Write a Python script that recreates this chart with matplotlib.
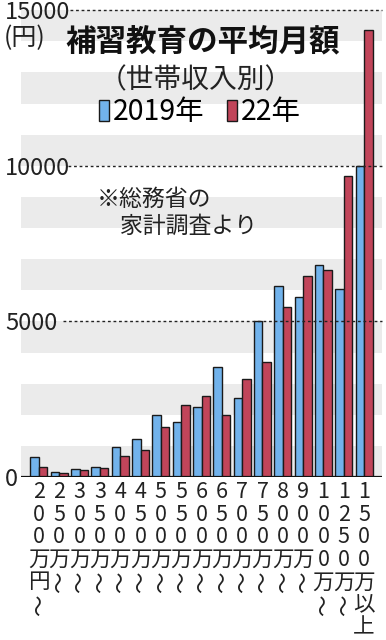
import matplotlib
matplotlib.use("Agg")
import matplotlib.pyplot as plt
import matplotlib.transforms as mtransforms
import numpy as np

plt.rcParams['font.family'] = ['Noto Sans CJK JP', 'DejaVu Sans']

# 世帯収入別の補習教育の平均月額（円）
categories = ["200万円～", "250万～", "300万～", "350万～", "400万～", "450万～",
              "500万～", "550万～", "600万～", "650万～", "700万～", "750万～",
              "800万～", "900万～", "1000万～", "1250万～", "1500万以上"]
vals_2019 = [640, 160, 270, 310, 960, 1230, 2000, 1770, 2250, 3550, 2530, 5000,
             6130, 5780, 6810, 6040, 9990]
vals_2022 = [320, 130, 225, 290, 665, 880, 1600, 2300, 2610, 2000, 3150, 3680,
             5450, 6450, 6660, 9660, 14370]
series_labels = ["2019年", "22年"]
yticks = [0, 5000, 10000, 15000]

blue = "#72b3ec"
red = "#c1455a"

fig = plt.figure(figsize=(3.86, 6.40), dpi=100)
W, H = 386, 640
ax = fig.add_axes([21 / W, 1 - 477 / H, (382 - 21) / W, (477 - 8) / H])

x = np.arange(len(categories))
w = 0.42
b1 = ax.bar(x - w / 2, vals_2019, w, color=blue, edgecolor="#1a1a1a", linewidth=1.0, zorder=3,
            label=series_labels[0])
b2 = ax.bar(x + w / 2, vals_2022, w, color=red, edgecolor="#1a1a1a", linewidth=1.0, zorder=3,
            label=series_labels[1])

ax.set_xlim(-0.88, len(categories) - 1 + 0.88)
ax.set_ylim(0, 469 / 155.6 * 5000)

# 背景の帯
for lo in range(0, 15000, 2000):
    ax.axhspan(lo, lo + 1000, color="#ebebeb", lw=0, zorder=0)

# 点線
for yv, xs in zip(yticks[1:], [0.116, 0.13, 0.136]):
    ax.axhline(yv, xmin=xs, xmax=1, color="#222222", lw=1.0, ls=(0, (2, 2)), zorder=4,
               clip_on=False)
ax.axhline(0, color="#111111", lw=1.6, zorder=5)

for s in ax.spines.values():
    s.set_visible(False)

ax.set_yticks(yticks)
ax.set_yticklabels([str(v) for v in yticks], fontsize=17, ha="left", color="#222222")
ax.tick_params(axis="y", length=0, pad=11.5)

# 縦書きの横軸ラベル（1文字ずつ配置）
ax.set_xticks([])
base = ax.get_xaxis_transform()
for i, lab in enumerate(categories):
    for j, ch in enumerate(lab):
        tr = mtransforms.offset_copy(base, fig=fig, y=-(15 + j * 22.6) * 0.72, units="points")
        ax.text(i, 0, ch, transform=tr, ha="center", va="center", fontsize=15.5,
                rotation=90 if ch == "～" else 0, color="#222222", clip_on=False)

fig.text(4 / W, 1 - 38 / H, "(円)", fontsize=18, va="center", ha="left", color="#222222")
fig.text(203 / W, 1 - 41 / H, "補習教育の平均月額", fontsize=22, fontweight="bold",
         ha="center", va="center", color="#111111")
fig.text(196 / W, 1 - 80 / H, "（世帯収入別）", fontsize=20, ha="center", va="center",
         color="#222222")
fig.text(97 / W, 1 - 213 / H, "※総務省の\n\u3000家計調査より", fontsize=16.5, ha="left",
         va="center", linespacing=1.25, color="#222222")

fig.legend(handles=[b1, b2], loc="center", bbox_to_anchor=(200 / W, 1 - 112 / H),
           ncol=2, frameon=False, fontsize=20.5, handlelength=0.34, handleheight=0.76,
           handletextpad=0.15, columnspacing=0.8, borderpad=0, borderaxespad=0)

fig.savefig("out.png", dpi=100)
